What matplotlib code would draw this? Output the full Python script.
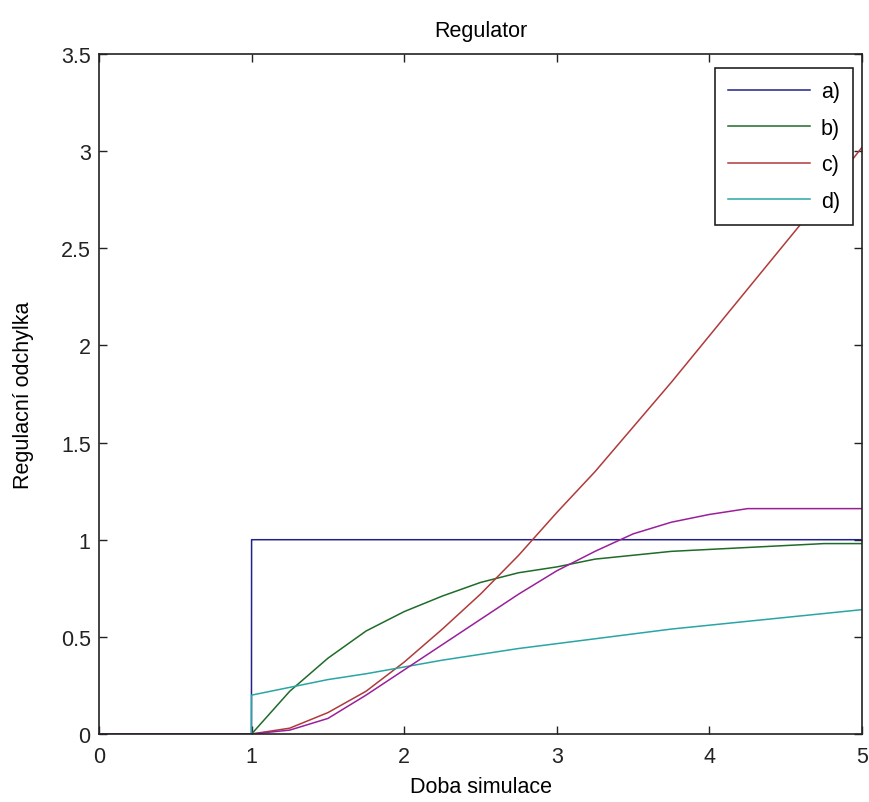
import matplotlib
matplotlib.use("Agg")
import matplotlib.pyplot as plt

plt.rcParams['font.family'] = ['Liberation Sans Narrow', 'Liberation Sans', 'DejaVu Sans']

# time grid (s)
t = [0.0, 0.999, 1.0, 1.25, 1.5, 1.75, 2.0, 2.25, 2.5, 2.75, 3.0, 3.25, 3.5,
     3.75, 4.0, 4.25, 4.5, 4.75, 5.0]

a_vals = [0, 0, 1, 1, 1, 1, 1, 1, 1, 1, 1, 1, 1, 1, 1, 1, 1, 1, 1]
b_vals = [0, 0, 0, 0.22, 0.39, 0.53, 0.63, 0.71, 0.78, 0.83, 0.86, 0.90, 0.92,
          0.94, 0.95, 0.96, 0.97, 0.98, 0.98]
c_vals = [0, 0, 0, 0.03, 0.11, 0.22, 0.37, 0.54, 0.72, 0.92, 1.14, 1.35, 1.58,
          1.81, 2.05, 2.29, 2.53, 2.77, 3.02]
d_vals = [0, 0, 0.20, 0.24, 0.28, 0.31, 0.345, 0.38, 0.41, 0.44, 0.465, 0.49, 0.515,
          0.54, 0.56, 0.58, 0.60, 0.62, 0.64]
e_vals = [0, 0, 0, 0.02, 0.08, 0.20, 0.33, 0.46, 0.59, 0.72, 0.84, 0.94, 1.03,
          1.09, 1.13, 1.16, 1.16, 1.16, 1.16]

labels = ['a)', 'b)', 'c)', 'd)']
title = 'Regulator'
xlabel = 'Doba simulace'
ylabel = 'Regulacní odchylka'

fs = 15.5

fig = plt.figure(figsize=(8.69, 8.03), dpi=100)
ax = fig.add_axes([0.1139, 0.0847, 0.8781, 0.8468])

ax.plot(t, a_vals, color='#22228a', lw=1.1, label=labels[0])
ax.plot(t, b_vals, color='#1f6b2a', lw=1.1, label=labels[1])
ax.plot(t, c_vals, color='#b03a3a', lw=1.1, label=labels[2])
ax.plot(t, d_vals, color='#2aa5a5', lw=1.1, label=labels[3])
ax.plot(t, e_vals, color='#9a209a', lw=1.1)

ax.set_xlim(0, 5)
ax.set_ylim(0, 3.5)
ax.set_xticks([0, 1, 2, 3, 4, 5])
ax.set_yticks([0, 0.5, 1, 1.5, 2, 2.5, 3, 3.5])
ax.set_yticklabels(['0', '0.5', '1', '1.5', '2', '2.5', '3', '3.5'])
ax.tick_params(direction='in', top=True, right=True, length=6, width=1,
               labelsize=fs, colors='#222222')
ax.tick_params(axis='x', pad=9)
ax.tick_params(axis='y', pad=6)
for s in ax.spines.values():
    s.set_linewidth(1.2)
    s.set_color('#222222')

ax.set_title(title, fontsize=fs, pad=13)
ax.set_xlabel(xlabel, fontsize=fs, labelpad=6)
ax.set_ylabel(ylabel, fontsize=fs, labelpad=19)

leg = ax.legend(loc='upper right', bbox_to_anchor=(0.988, 0.979), borderaxespad=0,
                fontsize=fs, handlelength=3.8, labelspacing=0.72, fancybox=False,
                framealpha=1, edgecolor='#222222', borderpad=0.6, handletextpad=0.5)
leg.get_frame().set_linewidth(1.2)

fig.savefig('out.png', dpi=100)
